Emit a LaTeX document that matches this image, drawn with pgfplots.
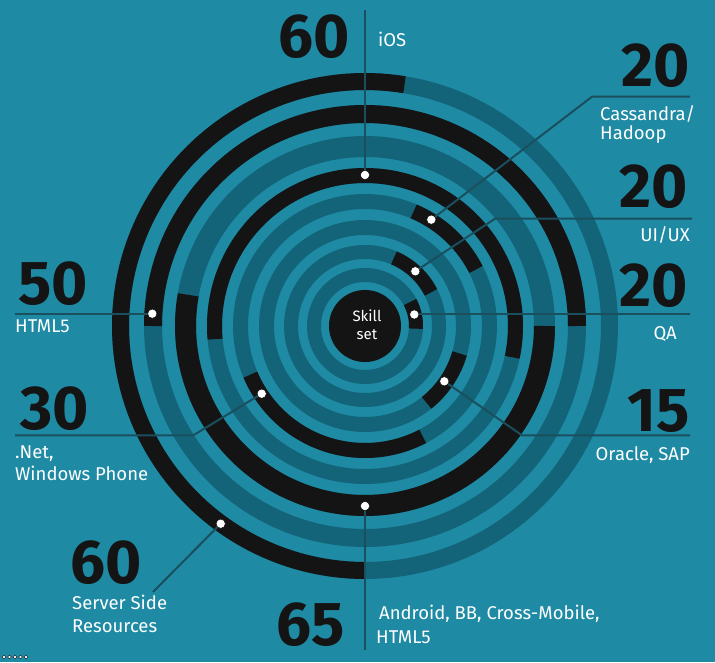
\documentclass[border=0pt]{standalone}
\usepackage{pgfplots}
\pgfplotsset{compat=1.18}
\usepackage{fontspec}
\setmainfont{Fira Sans}
\definecolor{bg}{HTML}{1E8AA4}
\definecolor{trk}{HTML}{136478}
\definecolor{blk}{HTML}{141414}
\definecolor{lead}{HTML}{1A4F5E}
\tikzset{
  big/.style={inner sep=0pt, text=blk, font=\bfseries\fontsize{62}{62}\selectfont},
  lab/.style={inner sep=0pt, text=white, font=\fontsize{18.5}{20}\selectfont},
  ring/.style={line cap=butt},
}
\begin{document}
\begin{tikzpicture}
\fill[bg] (0,0) rectangle (715pt,662pt);
\begin{axis}[at={(0pt,0pt)}, anchor=south west, scale only axis,
  width=715pt, height=662pt, xmin=-365, xmax=350, ymin=-336, ymax=326,
  hide axis, clip=false,
]
% tracks
\addplot[data cs=polar, ring, trk, line width=17pt, domain=0:361, samples=182] {244.5};
\addplot[data cs=polar, ring, trk, line width=18pt, domain=0:361, samples=182] {212};
\addplot[data cs=polar, ring, trk, line width=21pt, domain=0:361, samples=182] {179.5};
\addplot[data cs=polar, ring, trk, line width=15pt, domain=0:361, samples=182] {150.5};
\addplot[data cs=polar, ring, trk, line width=15pt, domain=0:361, samples=182] {124.5};
\addplot[data cs=polar, ring, trk, line width=15pt, domain=0:361, samples=182] {98.5};
\addplot[data cs=polar, ring, trk, line width=14pt, domain=0:361, samples=182] {74};
\addplot[data cs=polar, ring, trk, line width=14pt, domain=0:361, samples=182] {51};
% value arcs
\addplot[data cs=polar, ring, blk, line width=17pt, domain=80.7:270, samples=96] {244.5}; % Server Side 60
\addplot[data cs=polar, ring, blk, line width=18pt, domain=0:180, samples=91] {212};       % HTML5 50
\addplot[data cs=polar, ring, blk, line width=21pt, domain=170:360, samples=96] {179.5};   % Android 65
\addplot[data cs=polar, ring, blk, line width=15pt, domain=-12:185, samples=100] {150.5};  % iOS 60
\addplot[data cs=polar, ring, blk, line width=15pt, domain=27:67, samples=21] {124.5};     % Cassandra 20
\addplot[data cs=polar, ring, blk, line width=15pt, domain=203:297.6, samples=48] {124.5}; % .Net 30
\addplot[data cs=polar, ring, blk, line width=15pt, domain=308.7:343.8, samples=18] {98.5};% Oracle 15
\addplot[data cs=polar, ring, blk, line width=14pt, domain=27:67, samples=21] {74};        % UI/UX 20
\addplot[data cs=polar, ring, blk, line width=14pt, domain=-3:28, samples=16] {51};        % QA 20
% centre disc
\addplot[data cs=polar, ring, blk, line width=36pt, domain=0:361, samples=121] {18};
% leader lines
\addplot[lead, line width=2pt] coordinates {(0,153) (0,316)};
\addplot[lead, line width=2pt] coordinates {(66.3,106.3) (227,229.3) (325,229.3)};
\addplot[lead, line width=2pt] coordinates {(50.3,54.7) (130,107.3) (327,107.3)};
\addplot[lead, line width=2pt] coordinates {(49.3,11.5) (325,11.5)};
\addplot[lead, line width=2pt] coordinates {(79.3,-55.3) (157,-109.3) (325,-109.3)};
\addplot[lead, line width=2pt] coordinates {(-212.7,12.3) (-350,12.3)};
\addplot[lead, line width=2pt] coordinates {(-103.3,-67.7) (-171.7,-109.3) (-350,-109.3)};
\addplot[lead, line width=2pt] coordinates {(-144.3,-197.7) (-212,-266)};
\addplot[lead, line width=2pt] coordinates {(0,-181.7) (0,-324)};
% dots
\addplot[only marks, mark=*, mark size=4.6pt, mark options={fill=white, draw=none}] coordinates {
(0,151) (66.3,106.3) (50.3,54.7) (49.3,11.5) (-212.7,12.3) (-103.3,-67.7) (79.3,-55.3) (0,-180) (-144.3,-197.7)};
\addplot[only marks, mark=*, mark size=1.8pt, mark options={fill=white, draw=none}] coordinates {
(-361,-331) (-355.5,-331) (-350,-331) (-344.5,-331) (-339,-331)};
% texts
\node[text=white, inner sep=0pt, anchor=base, font=\fontsize{15}{15}\selectfont] at (axis cs:2,4) {Skill};
\node[text=white, inner sep=0pt, anchor=base, font=\fontsize{15}{15}\selectfont] at (axis cs:2,-14) {set};
\node[big, anchor=base east] at (axis cs:-15,268) {60};
\node[lab, anchor=base west] at (axis cs:13,279) {iOS};
\node[big, anchor=base east] at (axis cs:325,239) {20};
\node[lab, anchor=base west] at (axis cs:235,205) {Cassandra/};
\node[lab, anchor=base west] at (axis cs:235,186) {Hadoop};
\node[big, anchor=base east] at (axis cs:323,118) {20};
\node[lab, anchor=base east] at (axis cs:325,84) {UI/UX};
\node[big, anchor=base east] at (axis cs:323,19) {20};
\node[lab, anchor=base east] at (axis cs:312,-14) {QA};
\node[big, anchor=base east] at (axis cs:325,-106) {15};
\node[lab, anchor=base east] at (axis cs:325,-135) {Oracle, SAP};
\node[big, anchor=base west] at (axis cs:-347,21) {50};
\node[lab, anchor=base west] at (axis cs:-350,-7) {HTML5};
\node[big, anchor=base west] at (axis cs:-345,-104) {30};
\node[lab, anchor=base west] at (axis cs:-350,-132) {.Net,};
\node[lab, anchor=base west] at (axis cs:-350,-154) {Windows Phone};
\node[big, anchor=base west] at (axis cs:-295,-257) {60};
\node[lab, anchor=base west] at (axis cs:-293,-283) {Server Side};
\node[lab, anchor=base west] at (axis cs:-293,-306) {Resources};
\node[big, anchor=base east] at (axis cs:-20,-319) {65};
\node[lab, anchor=base west] at (axis cs:14,-293) {Android, BB, Cross-Mobile,};
\node[lab, anchor=base west] at (axis cs:11,-317) {HTML5};
\end{axis}
\end{tikzpicture}
\end{document}
